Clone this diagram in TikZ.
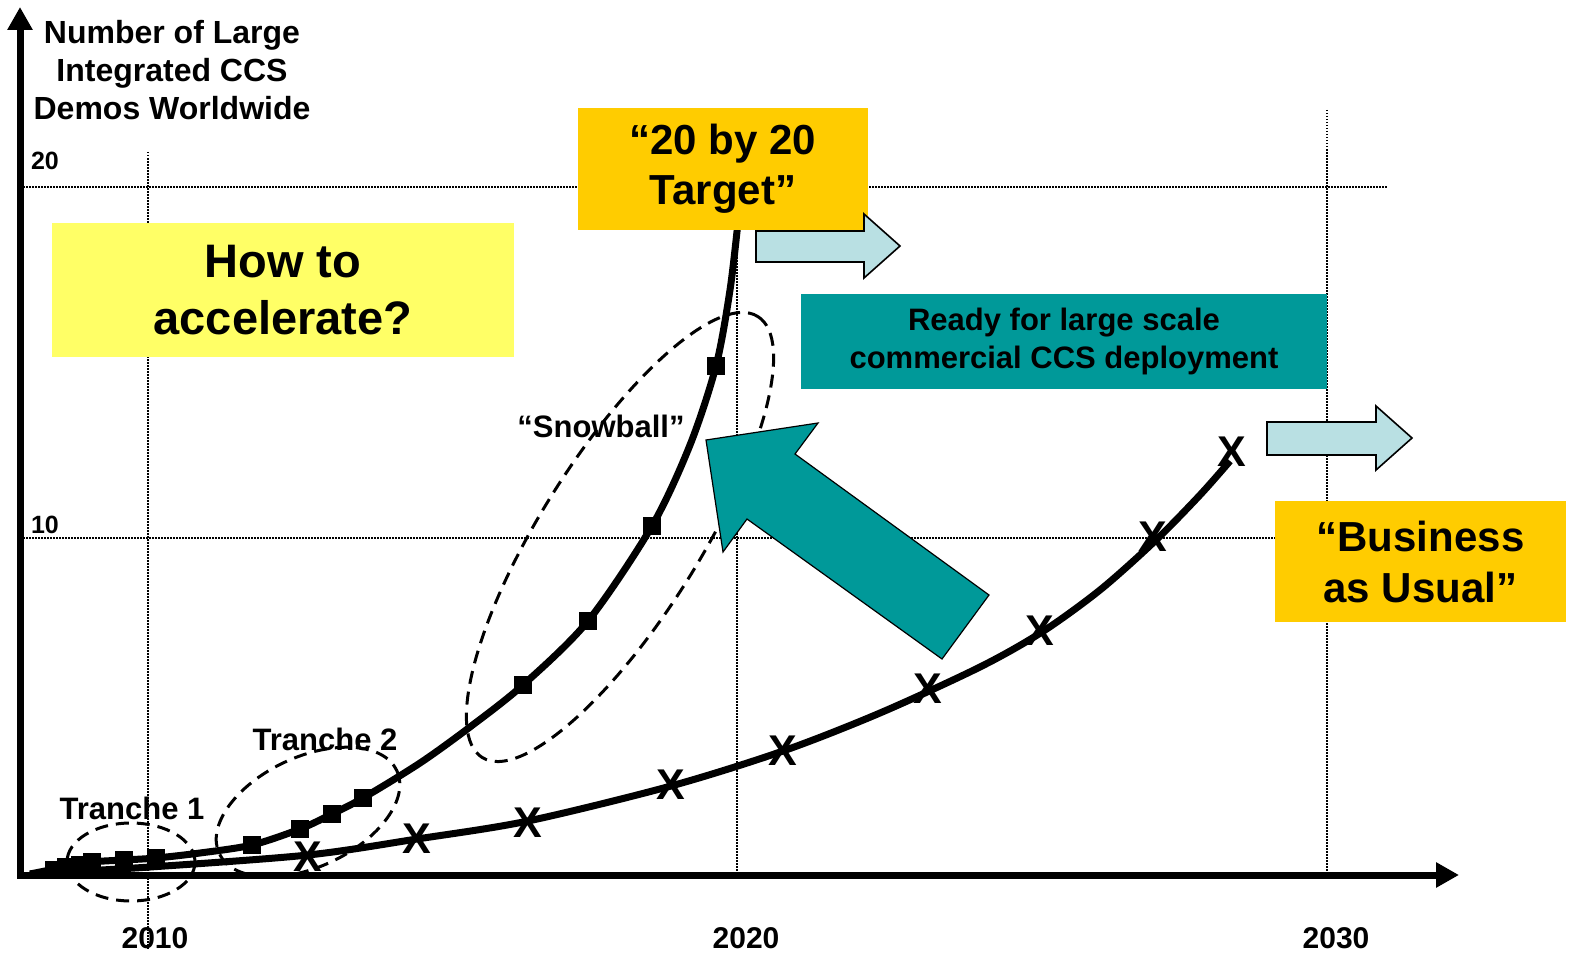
\documentclass[tikz,border=0pt]{standalone}
\usepackage{fontspec}
\setmainfont{Liberation Sans}
\usetikzlibrary{arrows.meta}
\definecolor{howyellow}{HTML}{FFFF66}
\definecolor{goldbox}{HTML}{FFCC00}
\definecolor{tealbox}{HTML}{009999}
\definecolor{paleblue}{HTML}{B9E0E3}
\tikzset{
  gridline/.style={line width=0.75pt, dash pattern=on 0.75pt off 0.75pt},
  axisline/.style={line width=3.5pt, -{Triangle[length=11.5pt,width=12pt]}},
  curveline/.style={line width=3.5pt},
  sqmark/.style={fill=black, minimum size=9pt, inner sep=0pt, draw=none},
  xmark/.style={font=\fontsize{21.5pt}{21.5pt}\selectfont\bfseries, inner sep=0pt},
  dashell/.style={line width=1.5pt, dash pattern=on 6.5pt off 4pt},
  lbl/.style={font=\fontsize{15.5pt}{18pt}\selectfont\bfseries, inner sep=0pt},
  yearlbl/.style={font=\fontsize{15pt}{18pt}\selectfont\bfseries, inner sep=0pt},
  ticklbl/.style={font=\fontsize{12.5pt}{15pt}\selectfont\bfseries, inner sep=0pt},
  bluearrow/.style={fill=paleblue, draw=black, line width=0.8pt},
  bigarrow/.style={fill=tealbox, draw=black, line width=0.6pt},
}
\begin{document}
\begin{tikzpicture}[x=0.5pt,y=-0.5pt]
\useasboundingbox (0,0) rectangle (1574,963);

% grid lines
\draw[gridline] (23,187) -- (1388,187);
\draw[gridline] (23,538) -- (1388,538);
\draw[gridline] (148,152) -- (148,950);
\draw[gridline] (737,110) -- (737,875);
\draw[gridline] (1327,110) -- (1327,875);

% axes
\coordinate (origin) at (20,878);
\coordinate (ytop) at (20,7);
\coordinate (xstart) at (17,875);
\coordinate (xend) at (1459,875);
\draw[axisline] (origin) -- (ytop);
\draw[axisline] (xstart) -- (xend);

% axis title and tick labels
\node[font=\fontsize{16pt}{19pt}\selectfont\bfseries, align=center, inner sep=0pt] (ytitle) at (172,70) {Number of Large\\Integrated CCS\\Demos Worldwide};
\node[ticklbl] (t20) at (45,161) {20};
\node[ticklbl] (t10) at (45,525) {10};
\node[yearlbl] (y2010) at (155,938) {2010};
\node[yearlbl] (y2020) at (746,938) {2020};
\node[yearlbl] (y2030) at (1336,938) {2030};

% How to accelerate box
\node[fill=howyellow, minimum width=231pt, minimum height=67pt, inner sep=0pt, align=center,
      font=\fontsize{23.5pt}{28.5pt}\selectfont\bfseries] (how) at (283,290) {How to\\accelerate?};

% curves
\draw[curveline] plot[smooth] coordinates {(30,874) (60,868) (92,862) (124,860) (156,858) (200,853) (252,845) (300,829) (332,814) (363,798) (420,763) (470,727) (523,685) (588,621) (652,526) (690,445) (716,366) (730,290) (738,222)};
\draw[curveline] plot[smooth] coordinates {(30,874) (150,867) (308,855) (417,839) (528,821) (671,786) (783,751) (880,713) (980,667) (1042,632) (1100,590) (1155,541) (1200,495) (1230,461)};

% 20 by 20 box
\node[fill=goldbox, minimum width=145pt, minimum height=61pt, inner sep=0pt, align=center,
      font=\fontsize{21pt}{25pt}\selectfont\bfseries] (target) at (723,169) {“20 by 20\\Target”};

% square markers
\foreach \p [count=\i] in {(54,870),(66,867),(80,865),(92,862),(124,860),(156,858),(252,845),(300,829),(332,814),(363,798),(523,685),(588,621),(652,526),(716,366)}
  \node[sqmark] (s\i) at \p {};

% X markers
\foreach \p [count=\i] in {(308,857),(417,839),(528,823),(671,785),(783,751),(928,689),(1040,631),(1153,537),(1232,452)}
  \node[xmark] (x\i) at \p {X};

% labels
\node[lbl] (tr1) at (132,808) {Tranche 1};
\node[lbl] (tr2) at (325,739) {Tranche 2};
\node[lbl] (snow) at (601,426) {“Snowball”};

% dashed ellipses
\node[inner sep=0pt] (e1c) at (131,862) {};
\draw[dashell] (e1c) ellipse [x radius=64, y radius=39];
\node[inner sep=0pt] (e2c) at (308,812) {};
\draw[dashell, rotate around={25:(e2c)}] (e2c) ellipse [x radius=98, y radius=55];
\node[inner sep=0pt] (e3c) at (620,537) {};
\draw[dashell, rotate around={58:(e3c)}] (e3c) ellipse [x radius=260, y radius=80];

% big teal arrow
\draw[bigarrow] (706,440) -- (818,423) -- (795,454) -- (989,595) -- (942,659) -- (747,519) -- (723,552) -- cycle;

% teal box
\node[fill=tealbox, minimum width=263pt, minimum height=47.5pt, inner sep=0pt, align=center,
      font=\fontsize{15.5pt}{19pt}\selectfont\bfseries] (ready) at (1064,341) {Ready for large scale\\commercial CCS deployment};

% light blue arrows
\draw[bluearrow] (756,231) -- (864,231) -- (864,214) -- (900,246) -- (864,278) -- (864,262) -- (756,262) -- cycle;
\draw[bluearrow] (1267,422) -- (1376,422) -- (1376,406) -- (1412,438) -- (1376,470) -- (1376,455) -- (1267,455) -- cycle;

% business as usual box
\node[fill=goldbox, minimum width=145.5pt, minimum height=60.5pt, inner sep=0pt, align=center,
      font=\fontsize{21pt}{25.5pt}\selectfont\bfseries] (bau) at (1420.5,561.5) {“Business\\as Usual”};
\end{tikzpicture}
\end{document}
